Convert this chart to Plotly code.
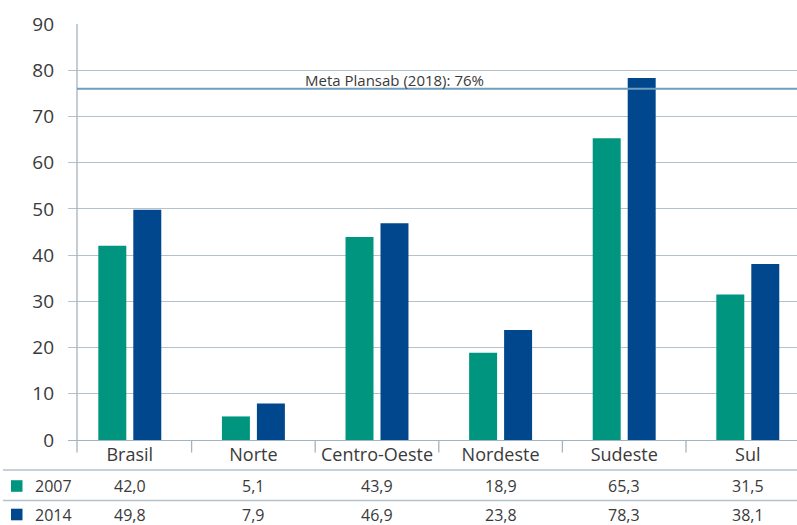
import plotly.graph_objects as go

# Regional data (percent)
categories = ["Brasil", "Norte", "Centro-Oeste", "Nordeste", "Sudeste", "Sul"]
series_names = ["2007", "2014"]
values_2007 = [42.0, 5.1, 43.9, 18.9, 65.3, 31.5]
values_2014 = [49.8, 7.9, 46.9, 23.8, 78.3, 38.1]
meta_value = 76
meta_label = "Meta Plansab (2018): 76%"
y_ticks = [0, 10, 20, 30, 40, 50, 60, 70, 80, 90]

GREEN = "#00957F"
BLUE = "#00478D"
GRID = "#B4C2CD"
AXIS = "#A3B3C0"
META = "#709EBC"
TEXT = "#3A3A3A"
FONT = "Open Sans"

W, H = 797, 525
ML, MT, MB = 68, 24, 85
plot_w = W - ML
plot_h = H - MT - MB
cat_px = 123.6                       # width of one category slot
x_max = -0.5 + plot_w / cat_px       # plot runs past the right edge
axis_off = 9 / cat_px                # y axis line sits a little inside

def fmt(v):
    return f"{v:.1f}".replace(".", ",")

def py(px):
    """paper y from a pixel row"""
    return (H - MB - px) / plot_h

def pxx(px):
    """paper x from a pixel column"""
    return (px - ML) / plot_w

xs = list(range(len(categories)))

fig = go.Figure()
fig.add_trace(go.Bar(x=xs, y=values_2007, name=series_names[0], marker_color=GREEN,
                     marker_line_width=0))
fig.add_trace(go.Bar(x=xs, y=values_2014, name=series_names[1], marker_color=BLUE,
                     marker_line_width=0))

shapes = []
# y axis line, continuing down into the label band
shapes.append(dict(type="line", xref="x", yref="paper", x0=-0.5 + axis_off, x1=-0.5 + axis_off,
                   y0=py(452.5), y1=1, line=dict(color=AXIS, width=1.3)))
# separators between categories
for i in range(len(categories) - 1):
    shapes.append(dict(type="line", xref="x", yref="paper", x0=i + 0.5, x1=i + 0.5,
                       y0=py(452.5), y1=0, line=dict(color=AXIS, width=1.3)))
# target line
shapes.append(dict(type="line", xref="x", yref="y", x0=-0.5 + axis_off, x1=x_max,
                   y0=meta_value, y1=meta_value, line=dict(color=META, width=2)))
# table rules
for ry in (470, 500.5):
    shapes.append(dict(type="line", xref="paper", yref="paper", x0=pxx(3), x1=1,
                       y0=py(ry), y1=py(ry), line=dict(color=GRID, width=1.3)))
# legend swatches in the table
row_y = [486.0, 514.5]
for color, ry in zip([GREEN, BLUE], row_y):
    shapes.append(dict(type="rect", xref="paper", yref="paper",
                       x0=pxx(11), x1=pxx(22.5), y0=py(ry - 5.8), y1=py(ry + 5.8),
                       fillcolor=color, line=dict(width=0)))

annotations = []
annotations.append(dict(text=meta_label, xref="paper", yref="y", x=pxx(394), y=meta_value,
                        xanchor="center", yanchor="bottom", showarrow=False, yshift=-3,
                        font=dict(family=FONT, size=15, color=TEXT)))
for name, vals, ry in zip(series_names, [values_2007, values_2014], row_y):
    annotations.append(dict(text=name, xref="paper", yref="paper", x=pxx(33), y=py(ry),
                            xanchor="left", yanchor="middle", showarrow=False,
                            font=dict(family=FONT, size=16, color=TEXT)))
    for x, v in zip(xs, vals):
        annotations.append(dict(text=fmt(v), xref="x", yref="paper", x=x, y=py(ry),
                                xanchor="center", yanchor="middle", showarrow=False,
                                font=dict(family=FONT, size=16, color=TEXT)))

fig.update_layout(
    width=W, height=H,
    margin=dict(l=ML, r=0, t=MT, b=MB, pad=0),
    paper_bgcolor="white", plot_bgcolor="white",
    barmode="group", bargap=0.434, bargroupgap=0.2,
    showlegend=False,
    font=dict(family=FONT, color=TEXT),
    shapes=shapes, annotations=annotations,
    xaxis=dict(range=[-0.5, x_max], tickmode="array", tickvals=xs, ticktext=categories,
               showgrid=False, zeroline=False, showline=False, ticks="",
               tickfont=dict(family=FONT, size=18, color=TEXT), ticklabelstandoff=2,
               fixedrange=True),
    yaxis=dict(range=[0, 90], tickmode="array", tickvals=y_ticks,
               showgrid=True, gridcolor=GRID, gridwidth=1.3,
               zeroline=True, zerolinecolor=AXIS, zerolinewidth=1.3,
               showline=False, ticks="", ticklabelstandoff=13,
               tickfont=dict(family=FONT, size=19, color=TEXT), fixedrange=True),
)

fig.write_html("out.html")
